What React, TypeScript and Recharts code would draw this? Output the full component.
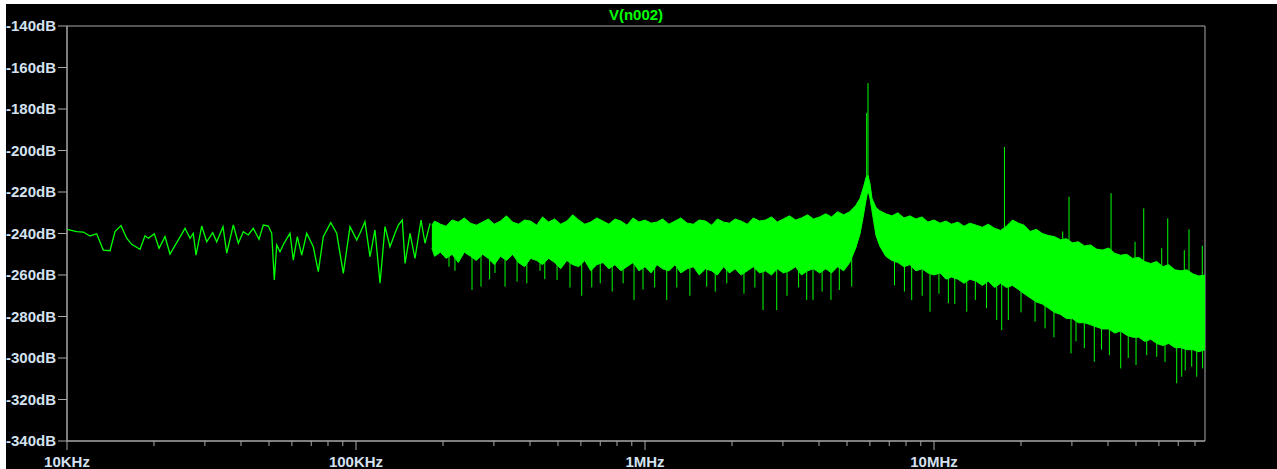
import React from 'react';
import { ComposedChart, Line, Area, XAxis, YAxis, ReferenceArea } from 'recharts';

// ---------- data ----------
const titleText = 'V(n002)';

// sparse low-frequency part of the trace (Hz, dB)
const lowFreqs = [
  10000, 10800, 11390, 12010, 12670, 13350, 14090, 14660, 15380, 16090,
  16740, 17890, 18620, 19110, 20050, 20820, 21830, 22720, 25610, 26650,
  27350, 27950, 29250, 30440, 31930, 32960, 34660, 35700, 37630, 39150,
  40740, 42400, 44120, 46170, 47770, 49720, 51090, 52160, 53170, 54580,
  56350, 59100, 60670, 62640, 64880, 67510, 71150, 74050, 77060, 81760,
  85740, 90390, 95330, 100600, 103200, 107400, 111800, 116300, 121100, 126000,
  131100, 136400, 140100, 144600, 147800, 153800, 160000, 167900, 173300, 180400,
];
const lowDb = [
  -238.0, -239.1, -239.3, -241.2, -240.1, -248.0, -248.3, -239.1, -236.2, -242.3,
  -245.2, -247.6, -241.1, -242.3, -240.2, -247.1, -241.5, -249.9, -237.5, -242.3,
  -239.9, -250.4, -236.4, -244.0, -239.6, -244.0, -236.7, -249.5, -235.9, -244.7,
  -239.1, -240.7, -237.5, -242.8, -235.9, -236.4, -239.9, -262.4, -245.5, -248.8,
  -244.7, -239.9, -252.8, -241.5, -250.4, -239.9, -246.4, -258.4, -241.5, -234.8,
  -239.9, -259.2, -236.7, -243.1, -239.9, -234.3, -251.2, -238.3, -264.0, -236.7,
  -246.4, -239.9, -235.9, -233.5, -254.4, -239.9, -252.0, -233.5, -244.7, -235.1,
];

// dense noise band (Hz, upper edge dB, lower edge dB)
const bandFreqs = [
  1.83e5, 1.87e5, 1.96e5, 2.05e5, 2.15e5, 2.26e5, 2.37e5, 2.49e5, 2.61e5, 2.74e5,
  2.87e5, 3.01e5, 3.16e5, 3.32e5, 3.48e5, 3.65e5, 3.83e5, 4.02e5, 4.22e5, 4.42e5,
  4.64e5, 4.87e5, 5.11e5, 5.36e5, 5.62e5, 5.90e5, 6.19e5, 6.49e5, 6.81e5, 7.15e5,
  7.50e5, 7.87e5, 8.25e5, 8.66e5, 9.09e5, 9.53e5,
  1.00e6, 1.05e6, 1.10e6, 1.15e6, 1.21e6, 1.27e6, 1.33e6, 1.40e6, 1.47e6, 1.54e6,
  1.62e6, 1.70e6, 1.78e6, 1.87e6, 1.96e6, 2.05e6, 2.15e6, 2.26e6, 2.37e6, 2.49e6,
  2.61e6, 2.74e6, 2.87e6, 3.01e6, 3.16e6, 3.32e6, 3.48e6, 3.65e6, 3.83e6, 4.02e6,
  4.22e6, 4.42e6, 4.64e6, 4.87e6, 5.11e6, 5.36e6, 5.55e6, 5.72e6, 5.817e6, 5.91e6,
  6.004e6, 6.10e6, 6.30e6, 6.49e6, 6.81e6, 7.15e6, 7.50e6, 7.87e6, 8.25e6, 8.66e6,
  9.09e6, 9.53e6,
  1.00e7, 1.05e7, 1.10e7, 1.15e7, 1.21e7, 1.27e7, 1.33e7, 1.40e7, 1.47e7, 1.54e7,
  1.62e7, 1.70e7, 1.78e7, 1.87e7, 1.96e7, 2.05e7, 2.15e7, 2.26e7, 2.37e7, 2.49e7,
  2.61e7, 2.74e7, 2.87e7, 3.01e7, 3.16e7, 3.32e7, 3.48e7, 3.65e7, 3.83e7, 4.02e7,
  4.22e7, 4.42e7, 4.64e7, 4.87e7, 5.11e7, 5.36e7, 5.62e7, 5.90e7, 6.19e7, 6.49e7,
  6.81e7, 7.15e7, 7.50e7, 7.87e7, 8.25e7, 8.663e7,
];
const bandTop = [
  -236.0, -234.0, -235.5, -236.5, -233.5, -234.5, -232.5, -235.0, -236.0, -234.5,
  -233.0, -235.5, -234.0, -231.5, -234.5, -235.5, -233.5, -234.0, -236.0, -232.0,
  -234.5, -233.0, -235.5, -234.0, -231.0, -233.5, -235.5, -234.5, -232.5, -234.0,
  -235.5, -233.0, -234.0, -236.0, -232.5, -234.5,
  -233.5, -235.0, -234.5, -233.0, -235.5, -234.0, -232.5, -235.0, -235.5, -233.5,
  -234.0, -236.0, -233.0, -234.5, -235.0, -233.0, -234.0, -235.5, -232.5, -234.0,
  -233.5, -232.0, -234.5, -233.0, -231.5, -233.5, -232.5, -231.0, -233.0, -232.0,
  -230.5, -232.0, -229.5, -231.0, -229.5, -226.5, -223.0, -217.0, -213.0, -212.0,
  -216.0, -223.0, -227.5, -229.0, -230.5, -231.5, -230.0, -232.5, -231.5, -233.0,
  -232.0, -234.5,
  -233.5, -235.0, -234.0, -235.5, -234.5, -236.5, -235.0, -236.0, -237.0, -235.5,
  -237.5, -238.5, -236.5, -233.5, -235.0, -236.0, -239.0, -238.0, -240.0, -241.0,
  -241.5, -243.0, -242.5, -244.5, -244.0, -246.0, -245.5, -247.5, -248.0, -247.0,
  -249.5, -250.5, -250.0, -252.0, -251.5, -253.5, -254.5, -253.5, -256.0, -255.0,
  -257.5, -258.0, -257.5, -259.5, -260.5, -260.0,
];
const bandBottom = [
  -247, -251, -249, -252, -250, -254, -249, -251, -253, -250,
  -252, -255, -251, -253, -250, -254, -256, -252, -253, -255,
  -252, -254, -257, -253, -255, -256, -253, -258, -255, -254,
  -257, -255, -258, -256, -254, -258,
  -256, -259, -255, -257, -258, -255, -259, -257, -256, -260,
  -257, -258, -260, -256, -259, -257, -260, -258, -256, -259,
  -258, -260, -257, -259, -258, -256, -260, -258, -257, -259,
  -257, -259, -256, -258, -254, -247, -240, -230, -224, -219,
  -223, -229, -241, -246, -251, -253, -254, -256, -255, -258,
  -257, -259,
  -260, -259, -262, -261, -262, -264, -262, -263, -265, -263,
  -266, -264, -266, -265, -267, -269, -271, -273, -274, -276,
  -278, -279, -281, -281, -283, -283, -284, -285, -286, -286,
  -288, -287, -289, -290, -290, -292, -291, -293, -294, -293,
  -295, -295, -296, -296, -297, -296,
];

// narrow upward spurs (Hz, dB at band, dB at tip)
const spurFreqs = [5849000, 5910000, 17530000, 27880000, 29320000, 40990000, 49610000, 53170000, 61370000, 64380000, 73460000, 76270000, 84790000];
const spurBase = [-215, -215, -241, -246, -247, -252, -254, -256, -258, -259, -261, -262, -263];
const spurTip = [-182, -167.5, -198.3, -239, -222.3, -220.6, -244, -227.9, -247.1, -232.7, -248, -238, -245.9];

// narrow downward dips (Hz, dB at band, dB at tip)
const dipFreqs = [
  209800, 252000, 270700, 302700, 327900, 360800, 433300, 496200, 603900, 654300,
  916200, 984200, 1189000, 1288000, 1635000, 1918000, 2561000, 2856000, 3627000, 3813000,
  4703000, 5191000, 8371000, 9688000, 11210000, 12980000, 16480000, 17150000, 18080000, 22370000,
  24220000, 29790000, 33120000, 35860000, 40440000, 44260000, 50010000, 54450000, 58970000, 69150000,
  71960000, 77930000, 81100000,
  220000, 290000, 390000, 450000, 550000, 700000, 770000, 840000, 1080000, 1430000,
  1750000, 2200000, 2400000, 3100000, 3400000, 4100000, 4400000, 7300000, 7900000, 9100000,
  10400000, 11800000, 13900000, 15200000, 20000000, 26000000, 31000000, 38000000, 47000000, 63000000,
  74000000, 85000000,
];
const dipBase = [
  -247, -248, -249, -249, -249, -250, -248, -250, -252, -250,
  -254, -253, -250, -251, -252, -254, -254, -254, -254, -253,
  -254, -252, -253, -255, -258, -259, -262, -262, -262, -270,
  -273, -278, -280, -281, -283, -285, -287, -289, -290, -292,
  -292, -293, -293,
  -250, -250, -252, -253, -253, -254, -255, -255, -255, -256,
  -256, -256, -256, -256, -256, -256, -256, -253, -254, -257,
  -259, -261, -262, -263, -267, -277, -281, -284, -288, -292,
  -294, -295,
];
const dipTip = [
  -256, -267.2, -265.6, -259, -265.6, -263.2, -258, -262.4, -270, -266,
  -272, -267, -272, -266, -265.6, -264, -276.9, -276.9, -272, -272,
  -267.2, -265.6, -272, -277.7, -273.6, -277.7, -281.7, -286.5, -281.7, -282.5,
  -285.7, -297.8, -295.3, -301.8, -298.6, -305, -303.4, -298.6, -299.4, -312.2,
  -309, -304.2, -309,
  -258, -262, -264, -262, -266, -264, -268, -264, -266, -270,
  -268, -269, -266, -270, -266, -268, -272, -265, -268, -270,
  -269, -274, -272, -276, -278, -290, -292, -296, -300, -302,
  -306, -305,
];

// axes
const xDomain = [10000, 86630000];
const majorXTicks = [10000, 100000, 1000000, 10000000];
const xTickLabels = ['10KHz', '100KHz', '1MHz', '10MHz'];
const minorXTicks = [
  20000, 30000, 40000, 50000, 60000, 70000, 80000, 90000,
  200000, 300000, 400000, 500000, 600000, 700000, 800000, 900000,
  2000000, 3000000, 4000000, 5000000, 6000000, 7000000, 8000000, 9000000,
  20000000, 30000000, 40000000, 50000000, 60000000, 70000000, 80000000,
];
const yTicks = [-340, -320, -300, -280, -260, -240, -220, -200, -180, -160, -140];
const yUnit = 'dB';

// ---------- styling ----------
const GREEN = '#00ff00';
const AXIS = '#a8a8a8';
const LABEL = '#d4e2f0';
const FONT = "'Liberation Sans', Arial, sans-serif";

const bandData = bandFreqs.map((f, i) => ({ f, band: [bandBottom[i], bandTop[i]] }));
const lowData = lowFreqs.map((f, i) => ({ f, v: lowDb[i] }));
const segments = (fs: number[], a: number[], b: number[]) =>
  fs.flatMap((f, i) => [
    { f, v: a[i] },
    { f, v: b[i] },
    { f, v: null as number | null },
  ]);
const spurData = segments(spurFreqs, spurBase, spurTip);
const dipData = segments(dipFreqs, dipBase, dipTip);
const allXTicks = [...majorXTicks, ...minorXTicks].sort((a, b) => a - b);

const XTick = (props: any) => {
  const { x, y, payload } = props;
  const idx = majorXTicks.indexOf(payload.value);
  const major = idx >= 0;
  return (
    <g>
      <line x1={x} x2={x} y1={y} y2={y + (major ? 9 : 5)} stroke={AXIS} strokeWidth={1} />
      {major && (
        <text x={x} y={y + 26} textAnchor="middle" fill={LABEL} fontSize={15} fontWeight="bold" fontFamily={FONT}>
          {xTickLabels[idx]}
        </text>
      )}
    </g>
  );
};

export default function App() {
  return (
    <div style={{ position: 'absolute', left: 0, top: 0, width: 1277, height: 469 }}>
      <div style={{ position: 'absolute', left: 6, top: 4, width: 1271, height: 465, background: '#000' }} />
      <div
        style={{
          position: 'absolute', left: 0, top: 6, width: 1272, textAlign: 'center',
          color: GREEN, fontFamily: FONT, fontWeight: 'bold', fontSize: 15,
        }}
      >
        {titleText}
      </div>
      <div style={{ position: 'absolute', left: 0, top: 0 }}>
        <ComposedChart
          width={1277}
          height={469}
          data={bandData}
          margin={{ top: 26, right: 72, bottom: 0, left: 0 }}
        >
          <XAxis
            dataKey="f"
            type="number"
            scale="log"
            domain={xDomain}
            allowDataOverflow
            ticks={allXTicks}
            interval={0}
            height={28}
            tickSize={0}
            tickMargin={0}
            tickLine={false}
            axisLine={{ stroke: AXIS }}
            tick={<XTick />}
          />
          <YAxis
            type="number"
            domain={[-340, -140]}
            allowDataOverflow
            ticks={yTicks}
            interval={0}
            width={67}
            tickSize={9}
            tickMargin={2}
            tickLine={{ stroke: AXIS }}
            axisLine={{ stroke: AXIS }}
            tickFormatter={(v: number) => `${v}${yUnit}`}
            tick={{ fill: LABEL, fontSize: 15, fontWeight: 'bold', fontFamily: FONT }}
          />
          <ReferenceArea x1={xDomain[0]} x2={xDomain[1]} y1={-340} y2={-140} fill="none" stroke={AXIS} strokeWidth={1} />
          <Area
            dataKey="band"
            type="linear"
            stroke={GREEN}
            strokeWidth={1}
            fill={GREEN}
            fillOpacity={1}
            isAnimationActive={false}
            dot={false}
            activeDot={false}
          />
          <Line data={lowData} dataKey="v" type="linear" stroke={GREEN} strokeWidth={1.3} dot={false} activeDot={false} isAnimationActive={false} />
          <Line data={dipData} dataKey="v" type="linear" stroke={GREEN} strokeWidth={1} dot={false} activeDot={false} connectNulls={false} isAnimationActive={false} />
          <Line data={spurData} dataKey="v" type="linear" stroke={GREEN} strokeWidth={1} dot={false} activeDot={false} connectNulls={false} isAnimationActive={false} />
        </ComposedChart>
      </div>
    </div>
  );
}
